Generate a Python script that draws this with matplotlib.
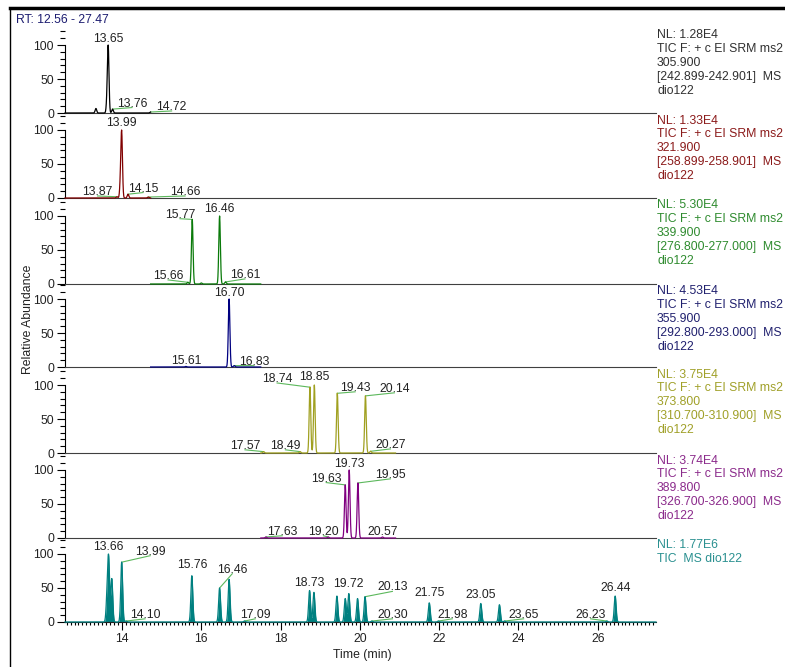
import numpy as np
import matplotlib.pyplot as plt
from matplotlib.lines import Line2D
from matplotlib.ticker import MultipleLocator

plt.rcParams['font.family'] = ['Liberation Sans', 'DejaVu Sans']

W, H = 785, 667
DPI = 100
FS = 8.8

rt_window = (12.56, 27.47)

# scan header info per trace
nl_values = ['1.28E4', '1.33E4', '5.30E4', '4.53E4', '3.75E4', '3.74E4', '1.77E6']
precursors = ['305.900', '321.900', '339.900', '355.900', '373.800', '389.800']
product_windows = ['242.899-242.901', '258.899-258.901', '276.800-277.000',
                   '292.800-293.000', '310.700-310.900', '326.700-326.900']
segments = [(12.56, 14.72), (12.56, 14.72), (14.72, 17.50), (14.72, 17.50),
            (17.50, 20.90), (17.50, 20.90), (12.56, 27.47)]

# peak apex retention time (min) and relative abundance (%)
rt_305 = [13.34, 13.62, 13.65, 13.76, 14.72]
ab_305 = [7, 15, 100, 6, 1.5]
rt_321 = [13.87, 13.96, 13.99, 14.15, 14.66]
ab_321 = [2, 22, 100, 6, 1.5]
rt_339 = [15.66, 15.77, 16.00, 16.46, 16.61]
ab_339 = [2.5, 95, 1.5, 100, 3]
rt_355 = [15.61, 16.70, 16.83]
ab_355 = [0.8, 100, 2]
rt_373 = [17.57, 18.49, 18.74, 18.85, 19.43, 20.14, 20.27]
ab_373 = [2, 2, 97, 100, 88, 84, 2.5]
rt_389 = [17.63, 19.20, 19.63, 19.73, 19.95, 20.57]
ab_389 = [1.5, 1.5, 78, 100, 81, 1.5]
rt_tic = [13.62, 13.66, 13.74, 13.99, 14.10, 15.76, 16.46, 16.70, 17.09,
          18.73, 18.84, 19.42, 19.63, 19.72, 19.94, 20.13, 20.30, 21.75,
          21.98, 23.05, 23.52, 23.65, 26.23, 26.44]
ab_tic = [35, 100, 70, 97, 1.5, 75, 55, 69, 1.5,
          51, 48, 42, 38, 46, 38, 41, 1.5, 31,
          1.5, 30, 28, 1.5, 1.5, 42]

# labelled peaks
lab_305 = [13.65, 13.76, 14.72]
lab_321 = [13.99, 13.87, 14.15, 14.66]
lab_339 = [15.77, 16.46, 15.66, 16.61]
lab_355 = [16.70, 15.61, 16.83]
lab_373 = [18.74, 18.85, 19.43, 20.14, 17.57, 18.49, 20.27]
lab_389 = [19.73, 19.63, 19.95, 17.63, 19.20, 20.57]
lab_tic = [13.66, 13.99, 14.10, 15.76, 16.46, 17.09, 18.73, 19.72, 20.13,
           20.30, 21.75, 21.98, 23.05, 23.65, 26.23, 26.44]

# label placement: (text x or None for centred on peak, leader end height)
pos_305 = [(None, 103), (14.25, 8), (15.25, 3)]
pos_321 = [(None, 104.5), (13.38, 3), (14.53, 8), (15.59, 3)]
pos_339 = [(15.46, 96), (None, 104.5), (15.16, 6), (17.10, 7.5)]
pos_355 = [(None, 103), (None, 3), (17.33, 2)]
pos_373 = [(17.91, 103), (None, 106), (19.88, 90), (20.87, 88.5),
           (17.10, 4.7), (18.12, 4.7), (20.77, 6)]
pos_389 = [(None, 103.5), (19.15, 81.5), (20.77, 87), (18.04, 3.3),
           (19.08, 3.3), (None, 3.3)]
pos_tic = [(None, 104.5), (14.71, 97.5), (14.58, 4.7), (None, 78),
           (16.78, 71), (17.36, 4.7), (None, 52), (None, 50), (20.82, 45),
           (20.82, 4.7), (None, 36), (22.33, 4.7), (None, 34.5), (24.13, 4.7),
           (25.82, 4.7), (None, 43.5)]

trace_colors = ['#000000', '#800000', '#0a7a0a', '#000080', '#a0a020', '#800080', '#008080']
text_colors = ['#303030', '#8b1a1a', '#2e8b2e', '#20206e', '#a0a028', '#8b2a8b', '#2a9090']
leader_color = '#5cb85c'

baselines = [113, 198, 284, 367, 453, 538, 622]
tops = [28] + baselines[:-1]
x_left, x_right = 65, 656
px_per_100 = 68.0

panels = [
    (rt_305, ab_305, lab_305, pos_305),
    (rt_321, ab_321, lab_321, pos_321),
    (rt_339, ab_339, lab_339, pos_339),
    (rt_355, ab_355, lab_355, pos_355),
    (rt_373, ab_373, lab_373, pos_373),
    (rt_389, ab_389, lab_389, pos_389),
    (rt_tic, ab_tic, lab_tic, pos_tic),
]


def build_trace(rts, abund, seg, width):
    t = np.arange(seg[0], seg[1] + 1e-9, 0.003)
    y = np.zeros_like(t)
    for r, a in zip(rts, abund):
        y += a * np.exp(-0.5 * ((t - r) / width) ** 2)
    return t, y / y.max() * 100


fig = plt.figure(figsize=(W / DPI, H / DPI), dpi=DPI)
fig.patch.set_facecolor('white')

for i, (rts, abund, labels, layout) in enumerate(panels):
    base, top = baselines[i], tops[i]
    ax = fig.add_axes([x_left / W, 1 - base / H, (x_right - x_left) / W, (base - top) / H])
    ax.set_facecolor('none')
    ax.set_xlim(*rt_window)
    ax.set_ylim(0, (base - top) / px_per_100 * 100)

    is_tic = i == len(panels) - 1
    t, y = build_trace(rts, abund, segments[i], 0.024 if is_tic else 0.02)
    if is_tic:
        ax.fill_between(t, 0, y, color=trace_colors[i], lw=0, clip_on=False)
    ax.plot(t, y, color=trace_colors[i], lw=0.9, clip_on=False, zorder=3)

    for rt, (lx, ly) in zip(labels, layout):
        apex = np.interp(rt, t, y)
        if lx is None:
            lx = rt
        else:
            ax.plot([rt, lx], [apex, ly], color=leader_color, lw=0.8,
                    clip_on=False, zorder=2)
        ax.text(lx, ly + 1.5, f'{rt:.2f}', ha='center', va='baseline',
                fontsize=FS, color='#222222', clip_on=False, zorder=4)

    for side in ('top', 'right'):
        ax.spines[side].set_visible(False)
    ax.spines['left'].set_bounds(0, 100)
    ax.spines['left'].set_linewidth(0.8)
    ax.spines['bottom'].set_linewidth(0.8)
    ax.spines['bottom'].set_color('#404040')

    ax.set_yticks([0, 50, 100])
    ax.set_yticklabels(['0', '50', '100'])
    ax.yaxis.set_minor_locator(MultipleLocator(10))
    ax.tick_params(axis='y', which='major', length=6, width=0.8, pad=2,
                   labelsize=FS, labelcolor='#222222')
    ax.tick_params(axis='y', which='minor', length=3.5, width=0.8)

    if is_tic:
        ax.spines['bottom'].set_color('#222222')
        ax.xaxis.set_major_locator(MultipleLocator(2))
        ax.xaxis.set_minor_locator(MultipleLocator(0.1))
        ax.tick_params(axis='x', which='major', length=6, width=0.8, pad=2,
                       labelsize=FS, labelcolor='#222222')
        ax.tick_params(axis='x', which='minor', length=2.5, width=0.8)
        info = f'NL: {nl_values[i]}\nTIC  MS dio122'
    else:
        ax.tick_params(axis='x', which='both', bottom=False, labelbottom=False)
        info = (f'NL: {nl_values[i]}\nTIC F: + c EI SRM ms2\n{precursors[i]}\n'
                f'[{product_windows[i]}]  MS\ndio122')

    fig.text(657 / W, 1 - (top + 1.5) / H, info, ha='left', va='top',
             fontsize=FS, color=text_colors[i], linespacing=1.2)

fig.text(16 / W, 1 - 20 / H, 'RT: 12.56 - 27.47', ha='left', va='center',
         fontsize=FS, color='#1c1c70')
fig.text(28 / W, 1 - 319 / H, 'Relative Abundance', rotation=90,
         ha='center', va='center', fontsize=FS, color='#222222')
fig.text(362 / W, 1 - 655 / H, 'Time (min)', ha='center', va='center',
         fontsize=FS, color='#222222')

# outer frame (top and left edges)
fig.add_artist(Line2D([10 / W, 1], [1 - 8 / H, 1 - 8 / H], lw=2.5, color='black',
                      transform=fig.transFigure))
fig.add_artist(Line2D([10 / W, 10 / W], [0, 1 - 8 / H], lw=1, color='black',
                      transform=fig.transFigure))

fig.savefig('out.png', dpi=DPI)
